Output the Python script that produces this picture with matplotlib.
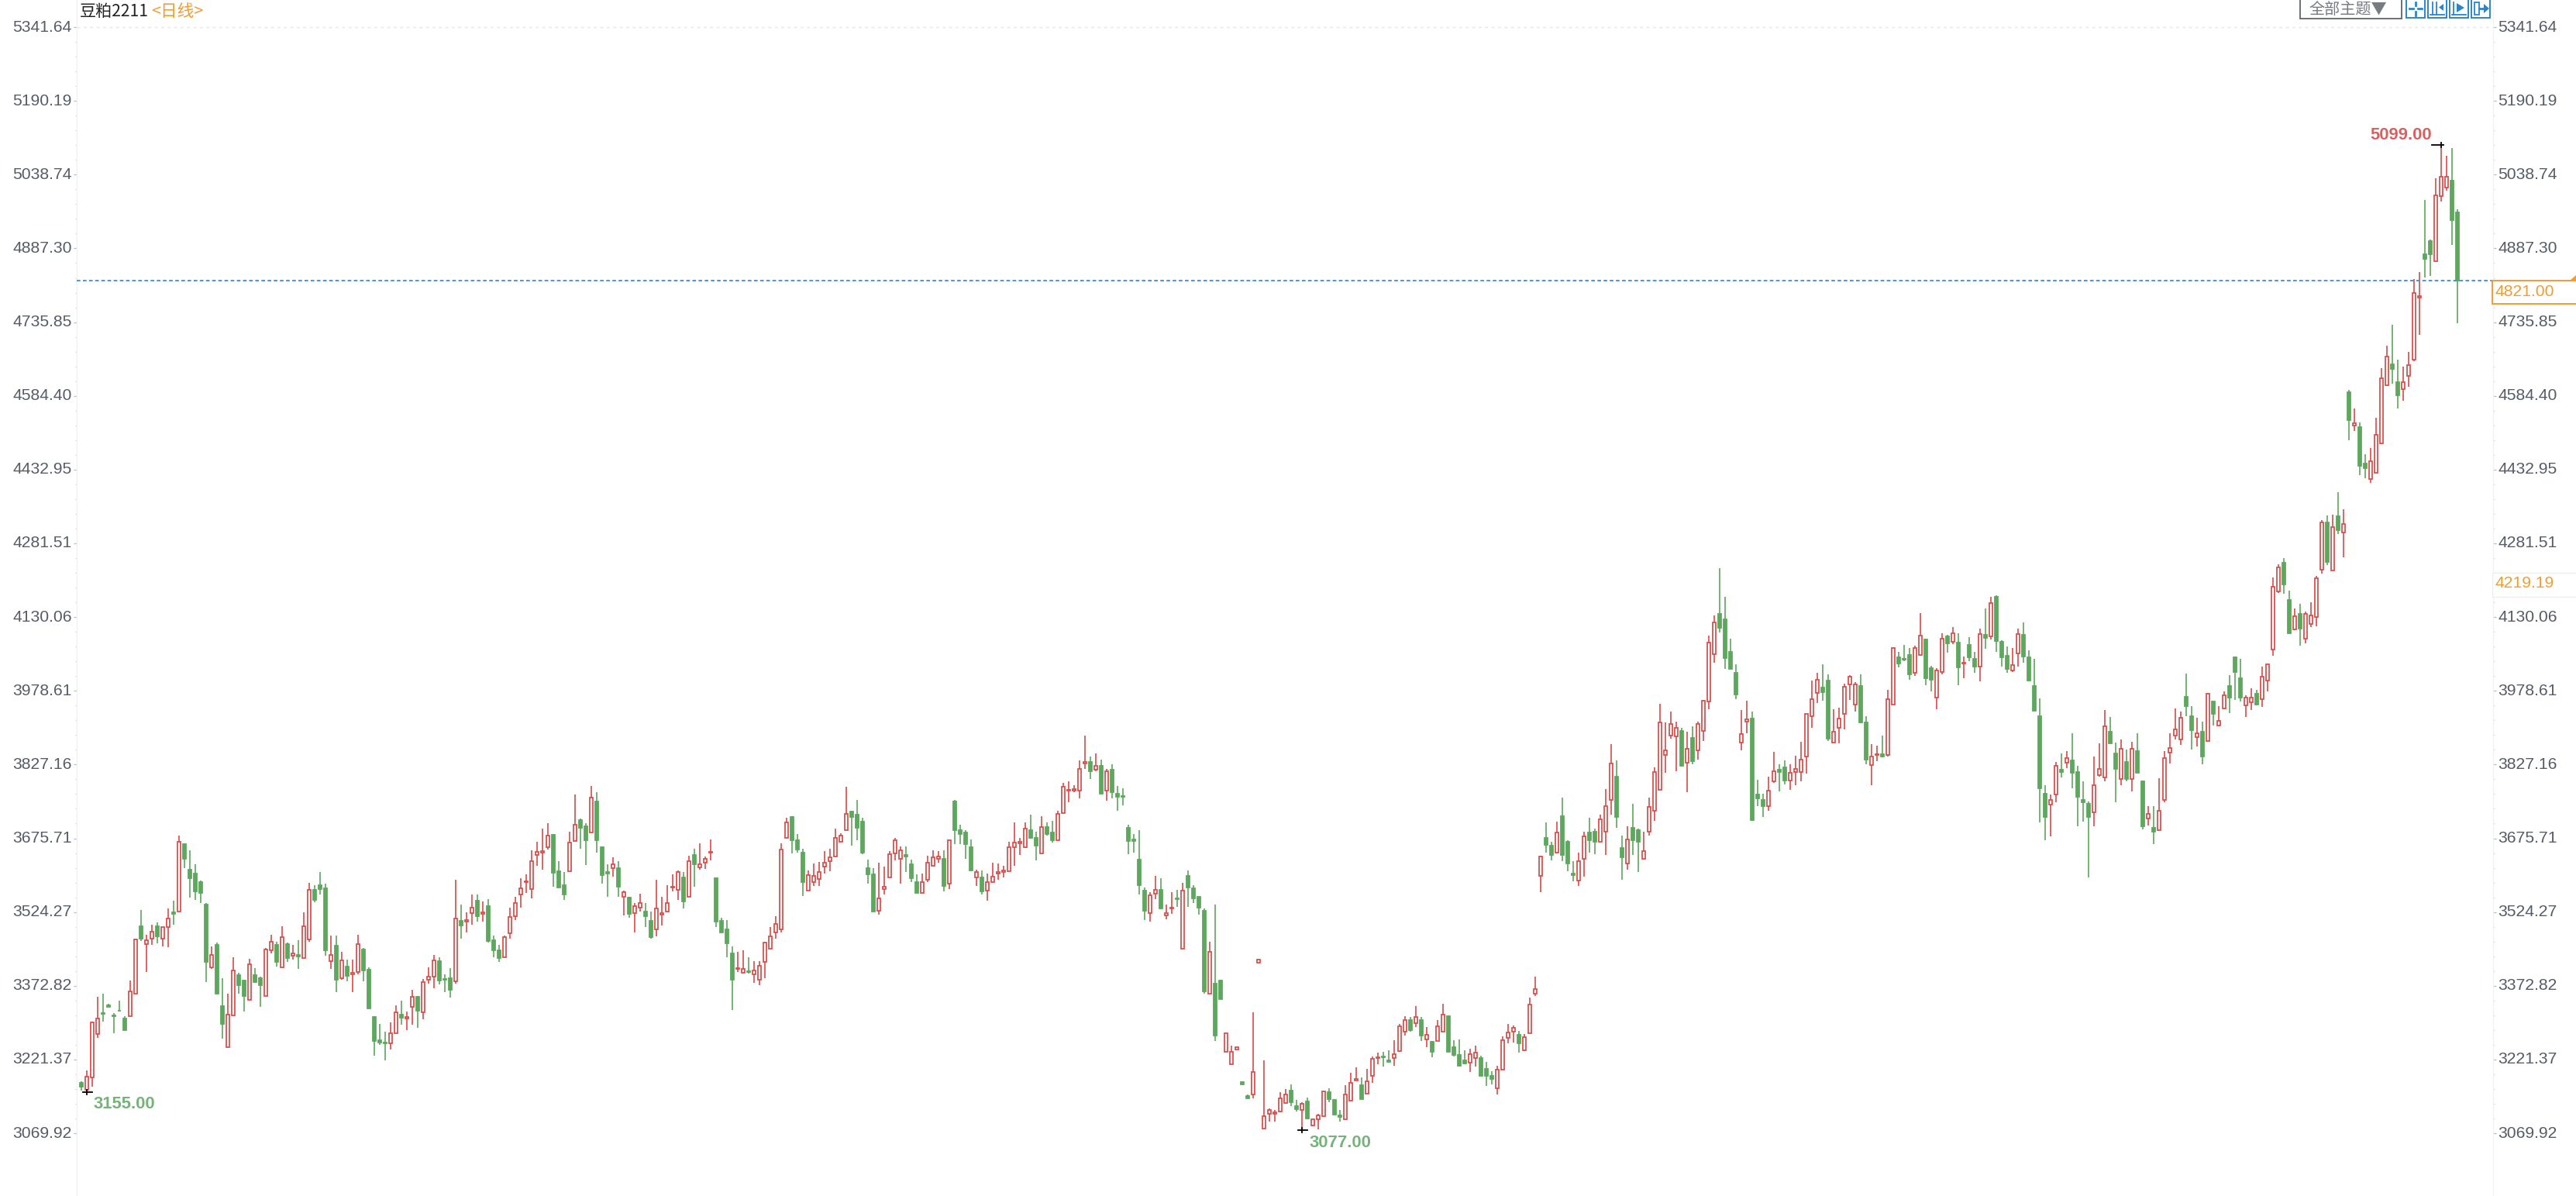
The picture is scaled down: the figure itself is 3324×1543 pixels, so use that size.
"""
Candlestick chart of soybean meal 2211, daily bars.
Output: out.png
"""
import matplotlib
matplotlib.use("Agg")
import matplotlib.pyplot as plt
from matplotlib.patches import Rectangle, Polygon
from matplotlib.lines import Line2D
from matplotlib.transforms import ScaledTranslation
import numpy as np

highs = [
    3177,3199,3299,3350,3356,3336,3316,3342,3311,3383,
    3470,3529,3478,3498,3503,3494,3531,3548,3682,3665,
    3651,3623,3589,3542,3453,3462,3389,3356,3431,3399,
    3385,3428,3409,3392,3450,3478,3463,3495,3461,3457,
    3467,3523,3584,3579,3606,3582,3476,3476,3442,3426,
    3426,3478,3450,3410,3311,3295,3278,3297,3333,3342,
    3320,3364,3352,3387,3411,3436,3431,3397,3409,3590,
    3539,3523,3560,3560,3546,3551,3476,3457,3476,3534,
    3556,3593,3601,3651,3668,3696,3707,3684,3629,3606,
    3690,3766,3716,3707,3783,3771,3659,3623,3637,3629,
    3569,3556,3543,3562,3542,3525,3590,3556,3579,3601,
    3610,3606,3640,3654,3665,3639,3673,3595,3512,3507,
    3453,3442,3445,3431,3423,3423,3463,3493,3515,3665,
    3718,3721,3685,3655,3609,3624,3627,3649,3654,3696,
    3686,3782,3732,3754,3718,3632,3615,3626,3618,3649,
    3676,3659,3659,3632,3601,3604,3640,3651,3649,3651,
    3673,3754,3704,3693,3674,3612,3609,3604,3626,3624,
    3620,3668,3709,3676,3709,3724,3689,3721,3709,3712,
    3732,3790,3793,3785,3835,3886,3843,3850,3838,3819,
    3827,3783,3779,3704,3685,3693,3575,3565,3598,3593,
    3539,3565,3570,3584,3610,3579,3556,3531,3463,3540,
    3385,3277,3250,3247,3175,3150,3319,3428,3219,3121,
    3117,3155,3161,3171,3138,3133,3143,3100,3109,3157,
    3162,3140,3118,3169,3194,3205,3185,3202,3228,3235,
    3237,3241,3261,3294,3311,3309,3331,3309,3288,3259,
    3303,3336,3312,3261,3263,3241,3244,3250,3229,3217,
    3198,3209,3269,3294,3291,3280,3274,3349,3392,3640,
    3708,3668,3710,3760,3671,3628,3647,3690,3718,3695,
    3724,3777,3869,3835,3681,3701,3746,3695,3690,3759,
    3821,3952,3913,3936,3916,3902,3894,3905,3916,3960,
    4092,4134,4231,4172,4086,4033,3939,3958,3936,3796,
    3768,3802,3853,3827,3835,3827,3846,3874,3931,4000,
    4016,4033,4013,3941,3944,3994,4011,3996,4013,3927,
    3869,3866,3886,3980,4068,4058,4073,4066,4071,4139,
    4085,4030,4025,4097,4093,4109,4097,4049,4089,4058,
    4106,4147,4172,4175,4083,4069,4066,4106,4119,4061,
    4044,3963,3785,3765,3833,3850,3855,3891,3825,3793,
    3751,3844,3870,3939,3925,3872,3878,3858,3874,3891,
    3795,3741,3741,3799,3855,3891,3942,3936,4014,3947,
    3923,3916,3974,3957,3947,3977,4011,4049,4045,3969,
    3983,3980,4028,4035,4212,4239,4251,4185,4148,4157,
    4141,4160,4214,4330,4339,4340,4387,4352,4596,4559,
    4530,4464,4478,4539,4642,4687,4731,4659,4645,4675,
    4824,4839,4987,4906,5031,5099,5078,5094,4967,
]
lows = [
    3157,3155,3165,3265,3299,3329,3276,3321,3281,3310,
    3357,3465,3401,3457,3460,3454,3452,3499,3525,3614,
    3554,3549,3542,3380,3407,3357,3264,3246,3312,3357,
    3320,3343,3379,3329,3351,3439,3412,3410,3421,3426,
    3407,3429,3463,3545,3561,3435,3407,3360,3385,3382,
    3360,3396,3382,3326,3229,3251,3220,3242,3276,3293,
    3281,3293,3287,3304,3377,3368,3376,3360,3348,3377,
    3470,3482,3499,3504,3504,3461,3432,3421,3432,3469,
    3508,3533,3563,3552,3619,3611,3652,3577,3574,3549,
    3608,3670,3655,3621,3687,3647,3583,3555,3597,3555,
    3518,3513,3482,3525,3493,3470,3474,3497,3523,3566,
    3549,3532,3555,3577,3611,3613,3630,3493,3482,3432,
    3323,3401,3398,3398,3379,3374,3388,3449,3469,3483,
    3677,3644,3647,3557,3569,3578,3578,3603,3608,3639,
    3668,3692,3660,3672,3643,3583,3525,3519,3561,3595,
    3631,3583,3607,3586,3563,3563,3586,3617,3625,3566,
    3571,3664,3664,3633,3608,3578,3561,3547,3586,3591,
    3595,3608,3619,3641,3656,3675,3631,3644,3681,3667,
    3672,3728,3750,3770,3758,3819,3797,3814,3767,3753,
    3758,3733,3744,3643,3647,3561,3508,3504,3550,3530,
    3510,3520,3535,3449,3535,3542,3519,3356,3357,3259,
    3345,3237,3211,3242,3170,3142,3142,3420,3079,3094,
    3094,3113,3131,3126,3115,3077,3099,3085,3078,3105,
    3134,3108,3094,3098,3137,3178,3140,3151,3173,3212,
    3207,3216,3209,3237,3271,3279,3288,3259,3246,3226,
    3259,3278,3237,3228,3207,3211,3195,3207,3187,3167,
    3170,3150,3201,3255,3256,3235,3239,3276,3351,3565,
    3647,3631,3644,3628,3608,3588,3578,3597,3647,3643,
    3669,3641,3725,3697,3591,3611,3641,3607,3633,3681,
    3711,3775,3811,3881,3814,3825,3770,3827,3837,3875,
    3940,4037,4099,4023,4023,3962,3856,3892,3711,3742,
    3720,3733,3790,3772,3787,3775,3784,3792,3809,3902,
    3954,3959,3876,3873,3870,3900,3960,3936,3912,3828,
    3784,3834,3842,3843,3950,4026,4039,4001,4010,4051,
    3990,3977,3940,4013,4057,4074,3990,4004,4040,4015,
    3998,4065,4084,4059,4029,4015,4017,4029,4037,3999,
    3937,3708,3672,3680,3750,3801,3820,3778,3700,3710,
    3596,3700,3803,3792,3870,3750,3784,3792,3772,3811,
    3694,3702,3664,3692,3750,3830,3878,3868,3926,3858,
    3864,3827,3876,3907,3906,3940,3933,3960,3956,3925,
    3939,3950,3945,3978,4050,4180,4178,4097,4103,4072,
    4076,4109,4111,4219,4237,4225,4301,4253,4493,4512,
    4421,4416,4406,4426,4485,4607,4609,4559,4575,4603,
    4655,4710,4827,4830,4861,4984,5006,4894,4733,
]
opens = [
    3173,3159,3185,3274,3317,3333,3312,3322,3306,3310,
    3357,3495,3458,3469,3495,3469,3494,3523,3525,3664,
    3612,3604,3585,3540,3410,3457,3331,3246,3312,3394,
    3384,3343,3394,3389,3351,3446,3457,3410,3458,3435,
    3436,3430,3468,3570,3579,3573,3424,3456,3389,3412,
    3396,3401,3448,3406,3309,3261,3256,3254,3276,3313,
    3305,3329,3350,3319,3385,3391,3423,3387,3389,3382,
    3506,3504,3522,3548,3521,3537,3467,3445,3432,3480,
    3516,3561,3586,3572,3641,3647,3658,3683,3608,3579,
    3608,3670,3713,3701,3687,3752,3657,3606,3614,3615,
    3555,3554,3522,3533,3526,3506,3488,3519,3525,3574,
    3570,3595,3555,3642,3616,3625,3646,3594,3506,3489,
    3440,3407,3399,3403,3397,3385,3422,3449,3483,3488,
    3677,3719,3671,3646,3569,3586,3592,3617,3628,3639,
    3669,3692,3730,3724,3710,3615,3601,3527,3572,3595,
    3645,3633,3642,3623,3586,3564,3591,3619,3633,3634,
    3583,3752,3692,3688,3657,3595,3596,3569,3586,3603,
    3607,3608,3658,3665,3658,3692,3676,3644,3699,3687,
    3672,3728,3773,3773,3773,3829,3833,3816,3824,3773,
    3816,3768,3762,3697,3673,3632,3568,3522,3562,3570,
    3517,3531,3553,3449,3599,3573,3555,3527,3357,3378,
    3383,3237,3211,3242,3175,3147,3150,3420,3079,3109,
    3110,3114,3132,3158,3126,3118,3136,3086,3098,3105,
    3155,3139,3107,3098,3137,3178,3169,3151,3187,3224,
    3228,3219,3224,3238,3279,3303,3296,3303,3263,3258,
    3260,3279,3311,3247,3230,3219,3215,3225,3225,3202,
    3188,3162,3201,3265,3279,3272,3240,3276,3357,3598,
    3676,3660,3647,3721,3668,3604,3589,3633,3687,3690,
    3669,3689,3755,3802,3656,3624,3698,3693,3633,3689,
    3732,3776,3847,3887,3885,3896,3831,3882,3856,3896,
    3957,4054,4136,4126,4058,4016,3873,3916,3922,3766,
    3754,3742,3792,3817,3821,3795,3812,3812,3843,3927,
    3974,3985,4000,3873,3902,3932,3991,3951,3989,3913,
    3826,3847,3849,3847,3951,4047,4044,4052,4015,4052,
    4084,4025,3965,4018,4090,4080,4078,4035,4073,4044,
    4029,4094,4090,4171,4079,4050,4021,4055,4094,4048,
    3989,3927,3768,3745,3765,3816,3831,3835,3812,3754,
    3747,3729,3806,3800,3894,3850,3798,3833,3798,3855,
    3793,3717,3698,3692,3754,3851,3887,3879,3967,3927,
    3884,3894,3876,3956,3907,3942,3989,4048,4005,3948,
    3955,3972,3962,3999,4063,4183,4241,4165,4104,4137,
    4086,4116,4131,4228,4324,4225,4338,4303,4592,4524,
    4520,4445,4414,4426,4487,4607,4650,4612,4599,4625,
    4659,4786,4876,4902,4861,4994,5013,5026,4962,
]
closes = [
    3165,3186,3297,3306,3315,3330,3311,3321,3281,3361,
    3468,3470,3467,3484,3474,3493,3511,3521,3668,3633,
    3594,3566,3563,3421,3436,3357,3295,3313,3405,3374,
    3351,3417,3381,3374,3448,3463,3421,3473,3429,3440,
    3433,3495,3570,3549,3571,3446,3436,3385,3425,3393,
    3400,3459,3405,3326,3259,3256,3254,3275,3319,3307,
    3308,3350,3322,3381,3392,3425,3384,3385,3365,3511,
    3496,3507,3534,3516,3523,3465,3446,3429,3473,3514,
    3542,3573,3588,3629,3648,3649,3681,3605,3575,3561,
    3667,3704,3698,3672,3759,3672,3600,3603,3623,3577,
    3565,3520,3536,3542,3516,3473,3531,3522,3542,3576,
    3607,3546,3629,3622,3623,3634,3648,3504,3482,3460,
    3385,3409,3408,3401,3405,3414,3462,3475,3500,3653,
    3709,3672,3652,3586,3600,3598,3606,3626,3637,3676,
    3682,3726,3720,3697,3646,3602,3526,3553,3576,3643,
    3671,3651,3639,3594,3563,3586,3626,3637,3639,3578,
    3671,3692,3684,3664,3610,3606,3566,3586,3597,3606,
    3609,3657,3667,3668,3696,3677,3660,3699,3684,3672,
    3726,3782,3775,3777,3819,3833,3814,3824,3767,3813,
    3770,3761,3761,3670,3670,3580,3527,3559,3570,3532,
    3522,3534,3550,3568,3574,3552,3533,3361,3442,3271,
    3345,3275,3237,3247,3170,3142,3196,3426,3105,3117,
    3113,3141,3149,3134,3120,3131,3100,3099,3106,3156,
    3140,3108,3103,3149,3174,3182,3140,3177,3222,3226,
    3226,3216,3232,3290,3303,3281,3308,3271,3272,3237,
    3289,3313,3237,3231,3208,3214,3232,3236,3187,3187,
    3182,3200,3261,3277,3286,3254,3267,3335,3366,3638,
    3662,3641,3687,3641,3624,3600,3629,3679,3672,3669,
    3715,3742,3829,3719,3636,3673,3672,3669,3650,3740,
    3812,3913,3857,3910,3902,3825,3859,3834,3911,3959,
    4078,4119,4108,4046,4023,3971,3890,3920,3713,3758,
    3742,3774,3813,3812,3794,3810,3818,3838,3931,3961,
    4002,3976,3881,3894,3922,3987,4008,3992,3913,3837,
    3843,3849,3844,3961,4067,4035,4042,4013,4066,4092,
    4005,4001,4021,4086,4076,4097,4026,4036,4048,4029,
    4095,4088,4159,4081,4048,4023,4032,4095,4049,4000,
    3937,3778,3720,3754,3824,3812,3841,3811,3761,3750,
    3719,3785,3818,3905,3870,3819,3860,3798,3860,3811,
    3700,3726,3689,3732,3841,3861,3899,3924,3947,3898,
    3891,3844,3972,3932,3917,3969,3965,4018,3965,3964,
    3965,3950,4008,4033,4193,4232,4197,4097,4132,4106,
    4136,4134,4210,4325,4244,4315,4308,4322,4534,4528,
    4440,4436,4450,4505,4620,4665,4640,4585,4613,4648,
    4795,4790,4866,4875,4996,5035,5035,4945,4821,
]

y_ticks = [5341.64, 5190.19, 5038.74, 4887.30, 4735.85, 4584.40, 4432.95, 4281.51,
           4130.06, 3978.61, 3827.16, 3675.71, 3524.27, 3372.82, 3221.37, 3069.92]
last_price = 4821.00
ref_price = 4219.19
low_first = 3155.00
low_min = 3077.00
high_max = 5099.00
title_name = "豆粕2211"
title_period = "<日线>"
theme_label = "全部主题▼"

W, H = 3324, 1543
RED = "#d9504e"
GREEN = "#5ea75e"
RED_WICK = "#dd5f5d"
GREEN_WICK = "#70ae70"
ORANGE = "#f39b35"
BLUE = "#2b86c9"
GREY = "#565c66"
CJK = ["Noto Sans CJK SC", "DejaVu Sans"]

plt.rcParams["font.family"] = ["Liberation Sans", "DejaVu Sans"]


def fx(x):
    return x / W


def fy(y):
    return 1 - y / H


def box(fig, x0, y0, x1, y1, **kw):
    fig.add_artist(Rectangle((fx(x0), fy(y1)), (x1 - x0) / W, (y1 - y0) / H,
                             transform=fig.transFigure, **kw))


def seg(fig, x0, y0, x1, y1, color=BLUE, lw=1.3):
    fig.add_artist(Line2D([fx(x0), fx(x1)], [fy(y0), fy(y1)], color=color, lw=lw,
                          transform=fig.transFigure))


def tri(fig, pts, color=BLUE):
    fig.add_artist(Polygon([(fx(a), fy(b)) for a, b in pts], closed=True, color=color,
                           lw=0, transform=fig.transFigure))


def draw_candles(ax):
    x = np.arange(len(opens))
    o, c = np.array(opens), np.array(closes)
    up = c >= o
    ax.vlines(x[up], np.array(lows)[up], np.array(highs)[up], color=RED_WICK, lw=1.35, zorder=2)
    ax.vlines(x[~up], np.array(lows)[~up], np.array(highs)[~up], color=GREEN_WICK, lw=1.35, zorder=2)
    ax.bar(x[up], (c - o)[up], bottom=o[up], width=0.56, facecolor="white",
           edgecolor=RED, linewidth=1.3, zorder=3)
    ax.bar(x[~up], (c - o)[~up], bottom=o[~up], width=0.56, facecolor=GREEN,
           edgecolor=GREEN, linewidth=1.3, zorder=3)


def draw_top_bar(fig):
    fig.text(fx(103), fy(15), title_name, fontsize=15.2, color="#222222", family=CJK,
             ha="left", va="center")
    fig.text(fx(195), fy(15), title_period, fontsize=15.6, color=ORANGE, family=CJK,
             ha="left", va="center")

    box(fig, 2968, -4, 3099, 24, facecolor="white", edgecolor="#60646c", lw=1.3)
    fig.text(fx(2980), fy(12), theme_label, fontsize=14.5, color="#777b82", family=CJK,
             ha="left", va="center")

    # toolbar icons
    for x0 in [3105, 3133, 3161, 3189]:
        box(fig, x0, -3, x0 + 24, 23, facecolor="white", edgecolor=BLUE, lw=1.4)
    cx, cy = 3117, 11
    seg(fig, cx - 8, cy, cx - 3, cy, lw=2)
    seg(fig, cx + 3, cy, cx + 8, cy, lw=2)
    seg(fig, cx, cy - 8, cx, cy - 4, lw=2)
    seg(fig, cx, cy + 4, cx, cy + 9, lw=2)
    seg(fig, 3139, 3, 3139, 19)
    seg(fig, 3144, 3, 3144, 19)
    seg(fig, 3136, 19, 3154, 19)
    tri(fig, [(3153, 5), (3153, 14), (3147, 9.5)])
    seg(fig, 3166, 3, 3166, 19)
    seg(fig, 3164, 19, 3182, 19)
    tri(fig, [(3170, 4), (3170, 16), (3180, 10)])
    box(fig, 3193, 3, 3199, 19, facecolor="white", edgecolor=BLUE, lw=1.3)
    seg(fig, 3199, 11, 3206, 11, lw=2)
    tri(fig, [(3205, 5), (3205, 17), (3212, 11)])


def draw_price_boxes(fig):
    box(fig, 3216, 362, 3330, 392, facecolor="white", edgecolor=ORANGE, lw=1.4, zorder=5)
    fig.text(fx(3220), fy(377), f"{last_price:.2f}", fontsize=15.2, color=ORANGE,
             ha="left", va="center", zorder=6)
    tri(fig, [(3316, 362), (3324, 355), (3324, 362)], color=ORANGE)
    box(fig, 3216, 739, 3330, 770, facecolor="white", edgecolor="#eeeeee", lw=1.0, zorder=5)
    fig.text(fx(3219), fy(753), f"{ref_price:.2f}", fontsize=15.2, color=ORANGE,
             ha="left", va="center", zorder=6)


def draw_extremes(fig, ax):
    to_fig = fig.transFigure.inverted()
    green_txt = "#77b27a"
    for i, price in [(1, low_first), (225, low_min), (435, high_max)]:
        px, py = ax.transData.transform((i, price))
        xf, yf = to_fig.transform((px, py))
        if price == high_max:
            fig.add_artist(Line2D([xf - 12 / W, xf + 3 / W], [yf, yf], color="black", lw=1.3,
                                  transform=fig.transFigure, zorder=6))
        else:
            fig.add_artist(Line2D([xf - 5 / W, xf + 7 / W], [yf, yf], color="black", lw=1.3,
                                  transform=fig.transFigure, zorder=6))
        fig.add_artist(Line2D([xf, xf], [yf - 3 / H, yf + 3 / H], color="black", lw=1.3,
                              transform=fig.transFigure, zorder=6))
    fig.text(fx(121), fy(1425), f"{low_first:.2f}", fontsize=15.8, fontweight="bold",
             color=green_txt, ha="left", va="center")
    fig.text(fx(1690), fy(1474), f"{low_min:.2f}", fontsize=15.8, fontweight="bold",
             color=green_txt, ha="left", va="center")
    fig.text(fx(3058), fy(175), f"{high_max:.2f}", fontsize=15.8, fontweight="bold",
             color="#d9605e", ha="left", va="center")


def main():
    fig = plt.figure(figsize=(W / 100, H / 100), dpi=100, facecolor="white")
    ax = fig.add_axes([fx(99), 0, (3217 - 99) / W, 1])

    draw_candles(ax)

    ax.set_xlim(-0.9, 444.53)
    ax.set_ylim(2941.0, 5397.5)
    ax.set_xticks([])

    minor = []
    for a, b in zip(y_ticks[1:], y_ticks[:-1]):
        minor += [a + (b - a) * k / 5 for k in range(1, 5)]
    ax.set_yticks(y_ticks)
    ax.set_yticklabels([f"{v:.2f}" for v in y_ticks])
    ax.set_yticks(minor, minor=True)
    ax.tick_params(axis="y", which="major", left=True, right=True, labelleft=True, labelright=True,
                   length=3.2, width=0.9, color="#b8bcc2", labelsize=15.2, labelcolor=GREY, pad=1.2)
    ax.tick_params(axis="y", which="minor", left=True, right=True, length=1.6, width=0.9,
                   color="#d4d6da")

    # labels sit a little above matplotlib's centring
    up_shift = ScaledTranslation(0, 2 / 100, fig.dpi_scale_trans)
    for tick in ax.yaxis.get_major_ticks():
        tick.label1.set_transform(tick.label1.get_transform() + up_shift)
        tick.label2.set_transform(tick.label2.get_transform() + up_shift)

    for side in ["top", "bottom"]:
        ax.spines[side].set_visible(False)
    for side in ["left", "right"]:
        ax.spines[side].set_color("#f1f2f4")
        ax.spines[side].set_linewidth(1.0)

    ax.axhline(y_ticks[0], color="#e8e8e8", lw=1.0, dashes=(3, 3), zorder=1)
    ax.axhline(last_price, color="#3a90d8", lw=1.3, dashes=(2.6, 1.8), zorder=4)

    draw_top_bar(fig)
    draw_price_boxes(fig)
    draw_extremes(fig, ax)

    fig.savefig("out.png", dpi=100)
    plt.close(fig)


if __name__ == "__main__":
    main()
